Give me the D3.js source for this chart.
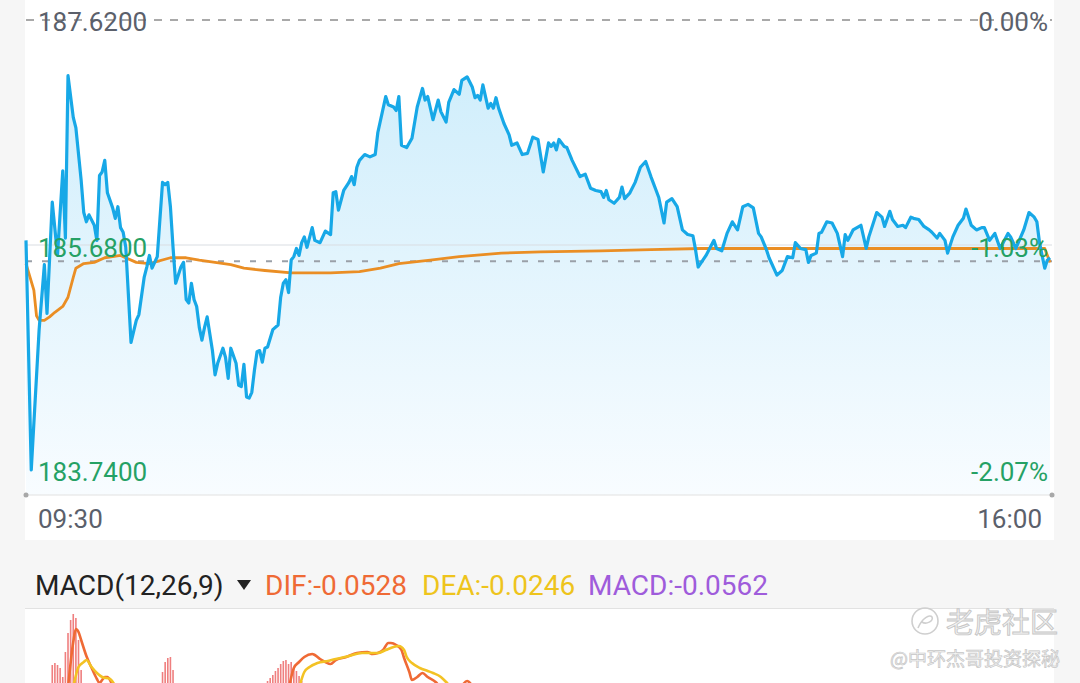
<!DOCTYPE html>
<html><head><meta charset="utf-8">
<script src="https://cdn.jsdelivr.net/npm/d3@7"></script>
<style>
body{margin:0;background:#f6f6f6;}
svg{display:block;font-family:Roboto,"Noto Sans",sans-serif;}
</style>
</head><body>
<svg id="c" width="1080" height="683"></svg>
<script>
// ---------- data ----------
const priceTicks = [187.62, 185.68, 183.74];
const priceTickLabels = ["187.6200", "185.6800", "183.7400"];
const pctTickLabels = ["0.00%", "-1.03%", "-2.07%"];
const timeLabels = ["09:30", "16:00"];
const lastPrice = 185.54;
// [minutes since 09:30, price]
const priceSeries = [
[0,185.72],[2,183.74],[5,184.95],[7,185.51],[8,185.09],[10,186.05],[12,185.59],[14,186.32],[15,185.74],[16,187.14],
[18,186.78],[19,186.69],[21,186.24],[22,185.96],[23,185.88],[24,185.94],[26,185.85],[27,185.72],[28,186.28],[29,186.31],
[30,186.41],[31,186.13],[33,186.00],[34,185.91],[35,186.01],[36,185.83],[37,185.79],[38,185.66],[40,184.84],[42,185.03],
[43,185.08],[45,185.40],[46,185.49],[47,185.59],[48,185.48],[50,185.58],[51,185.90],[52,186.22],[53,186.20],[54,186.22],
[55,186.01],[56,185.66],[57,185.35],[59,185.49],[60,185.53],[61,185.21],[62,185.18],[63,185.35],[64,185.21],[65,185.15],
[66,184.97],[67,184.86],[68,184.97],[69,185.06],[71,184.77],[72,184.56],[73,184.66],[75,184.79],[76,184.71],[77,184.53],
[78,184.79],[80,184.66],[81,184.47],[82,184.46],[83,184.65],[84,184.37],[85,184.36],[86,184.41],[87,184.60],[88,184.76],
[89,184.77],[90,184.67],[91,184.79],[92,184.80],[94,184.95],[96,184.99],[97,185.23],[98,185.35],[99,185.38],[100,185.27],
[101,185.55],[102,185.58],[103,185.65],[104,185.59],[105,185.70],[106,185.75],[107,185.66],[109,185.83],[110,185.72],[112,185.70],
[114,185.80],[116,185.77],[117,186.13],[118,186.14],[119,185.98],[121,186.15],[123,186.22],[124,186.27],[125,186.20],[126,186.35],
[127,186.41],[129,186.46],[131,186.44],[133,186.46],[134,186.65],[137,186.96],[138,186.89],[140,186.87],[141,186.84],[142,186.96],
[143,186.54],[145,186.52],[147,186.60],[149,186.87],[151,187.03],[152,186.93],[153,186.96],[155,186.76],[157,186.93],[158,186.83],
[160,186.74],[161,186.91],[163,187.02],[165,186.98],[166,187.10],[168,187.13],[170,187.04],[171,186.95],[172,186.97],[173,186.93],
[174,187.06],[176,186.86],[177,186.90],[178,186.86],[179,186.95],[180,186.86],[182,186.73],[184,186.63],[185,186.54],[187,186.56],
[189,186.46],[191,186.47],[193,186.61],[195,186.59],[197,186.31],[199,186.56],[200,186.53],[201,186.56],[202,186.50],[203,186.59],
[205,186.53],[206,186.52],[208,186.41],[211,186.27],[213,186.29],[215,186.17],[217,186.15],[219,186.14],[220,186.09],[221,186.15],
[222,186.07],[224,186.04],[226,186.09],[227,186.18],[228,186.08],[230,186.13],[232,186.22],[234,186.35],[236,186.40],[238,186.27],
[240,186.15],[241,186.09],[243,185.87],[244,186.05],[246,186.08],[248,186.01],[250,185.81],[252,185.77],[254,185.76],[255,185.64],
[256,185.49],[259,185.59],[262,185.72],[263,185.65],[265,185.63],[267,185.78],[269,185.88],[271,185.81],[273,186.01],[275,186.03],
[277,186.00],[279,185.78],[280,185.75],[282,185.64],[283,185.57],[286,185.42],[288,185.46],[290,185.58],[292,185.57],[293,185.70],
[295,185.65],[297,185.64],[298,185.53],[299,185.59],[301,185.61],[302,185.78],[303,185.79],[305,185.88],[307,185.87],[309,185.78],
[311,185.58],[312,185.77],[313,185.72],[315,185.81],[318,185.85],[320,185.65],[321,185.75],[324,185.96],[326,185.92],[327,185.84],
[329,185.97],[330,185.90],[332,185.84],[334,185.85],[335,185.83],[337,185.92],[338,185.91],[340,185.90],[342,185.84],[344,185.81],
[345,185.79],[347,185.74],[348,185.78],[350,185.72],[351,185.61],[353,185.75],[355,185.85],[357,185.91],[358,185.99],[360,185.85],
[362,185.81],[364,185.83],[365,185.83],[367,185.72],[369,185.78],[371,185.65],[374,185.78],[375,185.75],[377,185.65],[380,185.81],
[382,185.96],[384,185.92],[385,185.88],[386,185.70],[388,185.48],[389,185.55],[390,185.57]
];
const avgSeries = [
[0,185.52],[3,185.29],[4,185.07],[5,185.03],[7,185.03],[9,185.06],[11,185.10],[14,185.15],[16,185.23],[18,185.40],
[19,185.48],[22,185.52],[26,185.53],[30,185.57],[36,185.59],[42,185.53],[47,185.52],[55,185.57],[61,185.57],[66,185.55],
[72,185.53],[78,185.51],[83,185.48],[91,185.46],[101,185.44],[116,185.44],[127,185.45],[135,185.48],[142,185.52],[154,185.55],
[165,185.58],[181,185.61],[196,185.62],[219,185.63],[238,185.64],[257,185.65],[295,185.65],[333,185.65],[371,185.65],[388,185.65],[390,185.53]
];
// MACD pane (only the top part is visible)
const macdTitle = "MACD(12,26,9)";
const difLabel = "DIF:-0.0528", deaLabel = "DEA:-0.0246", macdLabel = "MACD:-0.0562";
const macdBars = [
[10,0.055],[11,0.057],[12,0.055],[13,0.052],[14,0.043],[15,0.068],[16,0.087],[17,0.100],[18,0.106],[19,0.102],[20,0.080],[21,0.050],[22,0.020],
[51,0.030],[52,0.048],[53,0.058],[54,0.062],[55,0.063],[56,0.050],[57,0.030],
[91,0.030],[92,0.039],[93,0.042],[94,0.045],[95,0.049],[96,0.052],[97,0.056],[98,0.059],[99,0.060],[100,0.056],[101,0.058],[102,0.053],[103,0.049],[104,0.044],[105,0.039],[106,0.030]
];
const difSegments = [
  [[16,0.032],[18,0.078],[19,0.091],[20,0.088],[21,0.080],[23,0.064],[25,0.052],[27,0.041],[28,0.037],[29,0.040],[30,0.043],[31,0.043],[32,0.040],[33,0.034]],
  [[100,0.030],[102,0.052],[104,0.058],[106,0.063],[109,0.066],[110,0.065],[112,0.061],[114,0.058],[116,0.056],[118,0.060],[122,0.063],[126,0.067],[130,0.068],[132,0.066],[134,0.067],[136,0.070],[138,0.077],[139,0.077],[141,0.075],[143,0.070],[144,0.062],[146,0.048],[147,0.040],[149,0.043],[151,0.047],[153,0.043],[156,0.038],[158,0.032]],
  [[166,0.034],[168,0.039],[170,0.034]]
];
const deaSegments = [
  [[18,0.033],[20,0.053],[22,0.058],[23,0.060],[25,0.053],[27,0.047],[29,0.043],[32,0.041],[34,0.034]],
  [[104,0.032],[106,0.048],[108,0.053],[111,0.057],[115,0.059],[118,0.061],[123,0.064],[128,0.067],[134,0.067],[137,0.070],[140,0.073],[142,0.074],[144,0.070],[145,0.063],[147,0.057],[150,0.052],[153,0.049],[155,0.047],[158,0.043],[160,0.038],[162,0.032]]
];

// ---------- drawing ----------
const svg = d3.select("#c");
const x = d3.scaleLinear().domain([0, 390]).range([26, 1050]);
const y = d3.scaleLinear().domain([183.74, 187.62]).range([470, 20]);
const plotBottom = 495;
const mY = d3.scaleLinear().domain([0, 0.1]).range([720, 620]);

const gray = "#5b606b", green = "#25a165";

svg.append("rect").attr("x",0).attr("y",0).attr("width",1080).attr("height",683).attr("fill","#f6f6f6");
svg.append("rect").attr("x",25).attr("y",0).attr("width",1029).attr("height",540).attr("fill","#ffffff");
svg.append("rect").attr("x",25).attr("y",609).attr("width",1029).attr("height",74).attr("fill","#ffffff");

const defs = svg.append("defs");
const grad = defs.append("linearGradient").attr("id","fillg").attr("gradientUnits","userSpaceOnUse")
  .attr("x1",0).attr("y1",20).attr("x2",0).attr("y2",plotBottom);
grad.append("stop").attr("offset","0").attr("stop-color","#cbecfb");
grad.append("stop").attr("offset","1").attr("stop-color","#f8fcff");
defs.append("clipPath").attr("id","mclip").append("rect").attr("x",25).attr("y",609).attr("width",1029).attr("height",74);

// area
svg.append("path").datum(priceSeries)
  .attr("d", d3.area().x(d=>x(d[0])).y0(plotBottom).y1(d=>y(d[1])))
  .attr("fill","url(#fillg)");

// grid lines
svg.append("line").attr("x1",26).attr("x2",1052).attr("y1",y(priceTicks[1])).attr("y2",y(priceTicks[1]))
  .attr("stroke","#d9dde2").attr("stroke-width",1);
svg.append("line").attr("x1",26).attr("x2",1052).attr("y1",plotBottom).attr("y2",plotBottom)
  .attr("stroke","#e2e2e2").attr("stroke-width",1.2);
svg.append("line").attr("x1",26).attr("x2",1052).attr("y1",y(priceTicks[0])).attr("y2",y(priceTicks[0]))
  .attr("stroke","#a9a9a9").attr("stroke-width",2.2).attr("stroke-dasharray","8,8");
svg.append("line").attr("x1",26).attr("x2",1052).attr("y1",y(lastPrice)).attr("y2",y(lastPrice))
  .attr("stroke","#9aa0a8").attr("stroke-width",2).attr("stroke-dasharray","6,10");
svg.selectAll("circle.end").data([26,1052]).enter().append("circle")
  .attr("cx",d=>d).attr("cy",plotBottom).attr("r",2.5).attr("fill","#a8a8a8");

svg.append("path").datum(avgSeries)
  .attr("d", d3.line().x(d=>x(d[0])).y(d=>y(d[1])))
  .attr("fill","none").attr("stroke","#ea8e24").attr("stroke-width",2.8).attr("stroke-linejoin","round");
svg.append("path").datum(priceSeries)
  .attr("d", d3.line().x(d=>x(d[0])).y(d=>y(d[1])))
  .attr("fill","none").attr("stroke","#17a8e7").attr("stroke-width",3.2).attr("stroke-linejoin","round");

// labels
const baseOff = [11, 12, 11];
priceTicks.forEach((p,i)=>{
  const col = i===0 ? gray : green;
  svg.append("text").attr("x",38).attr("y",y(p)+baseOff[i]).attr("font-size",26).attr("fill",col).text(priceTickLabels[i]);
  svg.append("text").attr("x",1048).attr("y",y(p)+baseOff[i]).attr("font-size",26).attr("fill",col)
    .attr("text-anchor","end").text(pctTickLabels[i]);
});
svg.append("text").attr("x",38).attr("y",528).attr("font-size",26).attr("fill",gray).text(timeLabels[0]);
svg.append("text").attr("x",1042).attr("y",528).attr("font-size",26).attr("fill",gray).attr("text-anchor","end").text(timeLabels[1]);

// MACD header
svg.append("text").attr("x",35).attr("y",595).attr("font-size",28).attr("fill","#222").text(macdTitle);
svg.append("path").attr("d","M237,580 L251,580 L244,590 Z").attr("fill","#222");
svg.append("text").attr("x",265).attr("y",595).attr("font-size",28).attr("fill","#ef6a35").text(difLabel);
svg.append("text").attr("x",422).attr("y",595).attr("font-size",28).attr("fill","#eec41c").text(deaLabel);
svg.append("text").attr("x",588).attr("y",595).attr("font-size",28).attr("fill","#9f5cdb").text(macdLabel);
svg.append("line").attr("x1",25).attr("x2",1054).attr("y1",608.5).attr("y2",608.5).attr("stroke","#e2e2e2");

// MACD pane
const mg = svg.append("g").attr("clip-path","url(#mclip)");
mg.selectAll("rect.bar").data(macdBars).enter().append("rect")
  .attr("x",d=>x(d[0])-0.8).attr("width",1.6)
  .attr("y",d=>mY(d[1])).attr("height",d=>mY(0)-mY(d[1]))
  .attr("fill","#ef7f7f");
const mline = d3.line().x(d=>x(d[0])).y(d=>mY(d[1])).curve(d3.curveMonotoneX);
difSegments.forEach(s=>mg.append("path").datum(s).attr("d",mline).attr("fill","none").attr("stroke","#ef6a35").attr("stroke-width",2.6));
deaSegments.forEach(s=>mg.append("path").datum(s).attr("d",mline).attr("fill","none").attr("stroke","#f3c224").attr("stroke-width",2.6));

// watermark
const wm = svg.append("g");
wm.append("circle").attr("cx",925).attr("cy",621).attr("r",13).attr("fill","none").attr("stroke","#cfcfcf").attr("stroke-width",1.6);
wm.append("path").attr("d","M918,628 C922,618 930,614 932,617 C934,621 926,625 922,622").attr("fill","none").attr("stroke","#cfcfcf").attr("stroke-width",1.6);
wm.append("text").attr("x",1058).attr("y",633).attr("text-anchor","end").attr("font-size",28)
  .attr("font-family","'Noto Sans CJK SC',sans-serif").attr("fill","#f2f2f2").attr("stroke","#c6c6c6").attr("stroke-width",0.9).text("老虎社区");
wm.append("text").attr("x",1060).attr("y",666).attr("text-anchor","end").attr("font-size",19)
  .attr("font-family","'Noto Sans CJK SC',sans-serif").attr("fill","#f2f2f2").attr("stroke","#c6c6c6").attr("stroke-width",0.7).text("@中环杰哥投资探秘");
</script>
</body></html>
